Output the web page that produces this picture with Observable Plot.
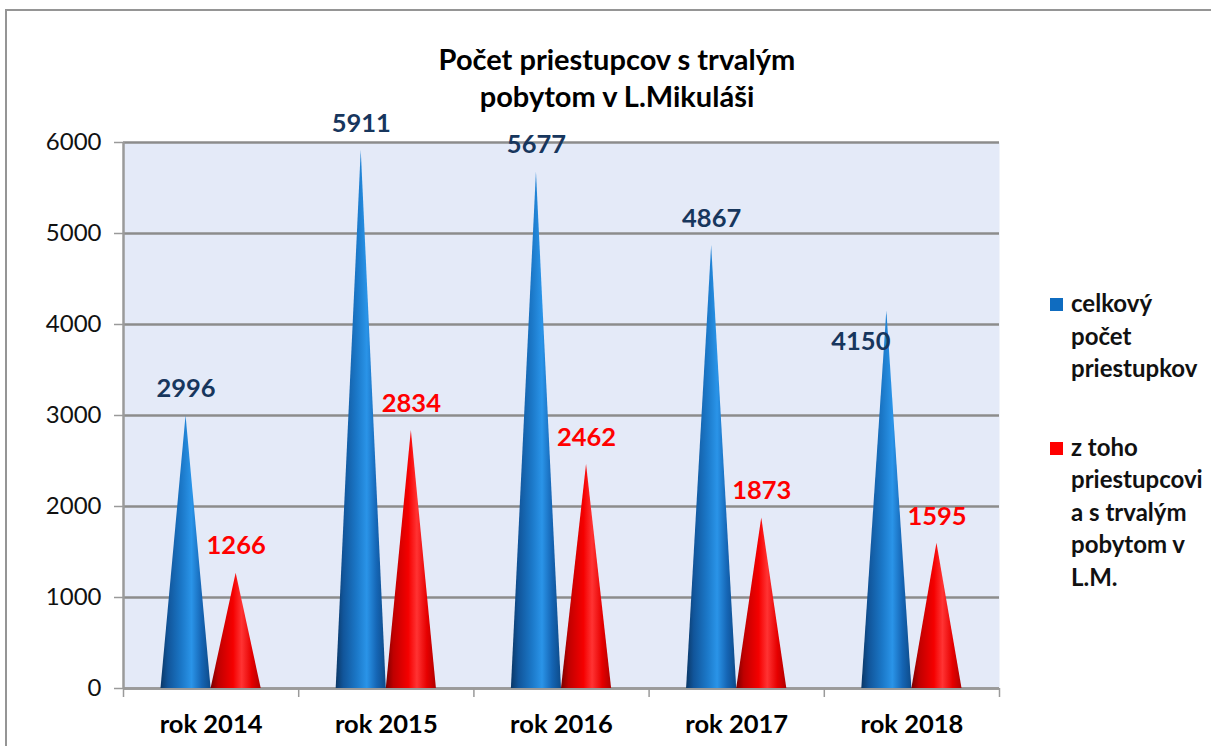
<!DOCTYPE html>
<html><head><meta charset="utf-8">
<script src="https://cdn.jsdelivr.net/npm/d3@7"></script>
<script src="https://cdn.jsdelivr.net/npm/@observablehq/plot@0.6"></script>
<style>
body{margin:0;background:#fff;font-family:Lato,"Open Sans",sans-serif;}
#wrap{position:relative;width:1211px;height:746px;overflow:hidden;background:#fff;}
#frame{position:absolute;left:5px;top:9px;width:1240px;height:780px;border:2px solid #959595;box-sizing:border-box;}
#title{position:absolute;left:0;top:40px;width:1234px;text-align:center;font-weight:bold;font-size:29px;line-height:37px;color:#000;}
#chart{position:absolute;left:0;top:115px;}
#legend{position:absolute;left:1050px;top:287px;font-weight:bold;font-size:24px;line-height:32.5px;color:#111;}
.item{position:relative;padding-left:21px;margin-bottom:46px;}
.sw{position:absolute;left:0;top:11px;width:13px;height:13px;}
</style>
</head><body>
<div id="wrap">
  <div id="frame"></div>
  <div id="title"></div>
  <div id="chart"></div>
  <div id="legend"></div>
</div>
<script>
const titleLines = ["Počet priestupcov s trvalým", "pobytom v L.Mikuláši"];
const years = ["rok 2014", "rok 2015", "rok 2016", "rok 2017", "rok 2018"];
const total = [2996, 5911, 5677, 4867, 4150];
const resident = [1266, 2834, 2462, 1873, 1595];
const legendTotal = ["celkový", "počet", "priestupkov"];
const legendResident = ["z toho", "priestupcovi", "a s trvalým", "pobytom v", "L.M."];
const yTicks = [0, 1000, 2000, 3000, 4000, 5000, 6000];

const blue = "#0f6cc0", red = "#ff0000";
const blueLabel = "#17365d", redLabel = "#ff0000";

document.getElementById("title").innerHTML = titleLines.join("<br>");

const lg = document.getElementById("legend");
lg.innerHTML =
  `<div class="item"><span class="sw" style="background:${blue}"></span>${legendTotal.join("<br>")}</div>` +
  `<div class="item"><span class="sw" style="background:${red}"></span>${legendResident.join("<br>")}</div>`;

const off = 0.143, half = 0.143;
function cones(values, sign, key) {
  const pts = [];
  values.forEach((v, i) => {
    const c = i + 0.5 + sign * off;
    pts.push({k: key + i, x: c - half, y: 0});
    pts.push({k: key + i, x: c, y: v});
    pts.push({k: key + i, x: c + half, y: 0});
  });
  return pts;
}
const blueCones = cones(total, -1, "b");
const redCones = cones(resident, 1, "r");
const totalRows = total.map((v, i) => ({x: i + 0.5 - off, v, i}));
const resRows = resident.map((v, i) => ({x: i + 0.5 + off, v, i}));

function defs() {
  const d = d3.create("svg:defs");
  const g1 = d.append("linearGradient").attr("id", "gBlue").attr("x1", 0).attr("x2", 1).attr("y1", 0).attr("y2", 0);
  [[0, "#0a3766"], [0.15, "#11559a"], [0.42, "#1b78c8"], [0.62, "#2a94e8"], [0.82, "#1565b4"], [1, "#0d4a88"]]
    .forEach(([o, c]) => g1.append("stop").attr("offset", o).attr("stop-color", c));
  const g2 = d.append("linearGradient").attr("id", "gRed").attr("x1", 0).attr("x2", 1).attr("y1", 0).attr("y2", 0);
  [[0, "#7a0000"], [0.15, "#bf0000"], [0.45, "#f50000"], [0.62, "#ff3333"], [0.82, "#e60000"], [1, "#b00000"]]
    .forEach(([o, c]) => g2.append("stop").attr("offset", o).attr("stop-color", c));
  return d.node();
}

const chart = Plot.plot({
  width: 1000,
  height: 631,
  marginTop: 27,
  marginBottom: 58,
  marginLeft: 123,
  marginRight: 1,
  style: {fontFamily: "Lato, 'Open Sans', sans-serif", background: "transparent", overflow: "visible"},
  x: {domain: [0, 5], axis: null},
  y: {domain: [0, 6000], axis: null},
  marks: [
    defs,
    Plot.frame({fill: "#e4eaf8", stroke: "none"}),
    Plot.gridY(yTicks, {stroke: "#8c8c8c", strokeOpacity: 1, strokeWidth: 2.5}),
    Plot.axisY({ticks: yTicks, label: null, tickSize: 9, tickPadding: 13, fontSize: 24, color: "#111", stroke: "#9a9a9a", strokeWidth: 1.5, tickFormat: d => String(d)}),
    Plot.axisX({ticks: [0, 1, 2, 3, 4, 5], label: null, tickSize: 9, tickFormat: () => "", stroke: "#9a9a9a", strokeWidth: 1.5}),
    Plot.axisX({ticks: [0.5, 1.5, 2.5, 3.5, 4.5], label: null, tickSize: 0, tickPadding: 26, fontSize: 25.5, fontWeight: "bold", color: "#000", tickFormat: d => years[Math.floor(d)]}),
    Plot.ruleX([0], {stroke: "#9a9a9a", strokeWidth: 2.5}),
    Plot.ruleY([0], {stroke: "#9a9a9a", strokeWidth: 2.5}),
    Plot.areaY(blueCones, {x: "x", y: "y", z: "k", fill: "url(#gBlue)"}),
    Plot.areaY(redCones, {x: "x", y: "y", z: "k", fill: "url(#gRed)"}),
    Plot.text(totalRows.filter(d => d.i !== 4), {x: "x", y: "v", text: d => String(d.v), dy: -27, fill: blueLabel, fontWeight: "bold", fontSize: 25.5}),
    Plot.text(totalRows.filter(d => d.i === 4), {x: "x", y: "v", text: d => String(d.v), dy: 31, dx: -26, fill: blueLabel, fontWeight: "bold", fontSize: 25.5}),
    Plot.text(resRows, {x: "x", y: "v", text: d => String(d.v), dy: -27, fill: redLabel, fontWeight: "bold", fontSize: 25.5})
  ]
});
document.getElementById("chart").appendChild(chart);
</script>
</body></html>
